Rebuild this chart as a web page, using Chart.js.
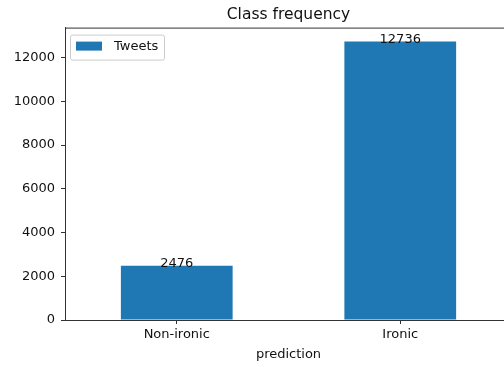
<!DOCTYPE html>
<html>
<head>
<meta charset="utf-8">
<script src="https://cdn.jsdelivr.net/npm/chart.js@4/dist/chart.umd.min.js"></script>
<style>
  html, body { margin: 0; padding: 0; background: #fff; overflow: hidden; }
  canvas { display: block; }
</style>
</head>
<body>
<canvas id="freqChart" width="512" height="367"></canvas>
<script>
const categories = ["Non-ironic", "Ironic"];
const tweetCounts = [2476, 12736];
const yTicks = [0, 2000, 4000, 6000, 8000, 10000, 12000];

const barBlue = '#1f77b4';
const inkColor = '#111';
const spineColor = '#333';

Chart.defaults.font.family = "'DejaVu Sans', sans-serif";
Chart.defaults.color = inkColor;

// top spine + value labels + legend box drawn inside the plot
const extras = {
    id: 'extras',
    afterDraw(chart) {
        const ctx = chart.ctx;
        const area = chart.chartArea;
        ctx.save();
        ctx.strokeStyle = spineColor;
        ctx.lineWidth = 1;
        ctx.beginPath();
        ctx.moveTo(area.left, area.top + 0.5);
        ctx.lineTo(area.right, area.top + 0.5);
        ctx.stroke();

        ctx.font = "13px 'DejaVu Sans'";
        ctx.fillStyle = inkColor;
        ctx.textAlign = 'center';
        ctx.textBaseline = 'alphabetic';
        chart.getDatasetMeta(0).data.forEach((bar, i) => {
            ctx.fillText(String(tweetCounts[i]), bar.x, bar.y + 1);
        });

        // legend
        const lx = area.left + 5.5, ly = area.top + 7.5, lw = 94, lh = 25;
        ctx.fillStyle = 'rgba(255,255,255,0.8)';
        ctx.strokeStyle = '#cccccc';
        ctx.beginPath();
        ctx.roundRect(lx, ly, lw, lh, 2);
        ctx.fill();
        ctx.stroke();
        ctx.fillStyle = barBlue;
        ctx.fillRect(area.left + 11, area.top + 14, 26, 9);
        ctx.fillStyle = inkColor;
        ctx.textAlign = 'left';
        ctx.textBaseline = 'middle';
        ctx.fillText(chart.data.datasets[0].label, area.left + 49, area.top + 19);
        ctx.restore();
    }
};

new Chart(document.getElementById('freqChart').getContext('2d'), {
    type: 'bar',
    data: {
        labels: categories,
        datasets: [{
            label: 'Tweets',
            data: tweetCounts,
            backgroundColor: barBlue,
            borderWidth: 0,
            categoryPercentage: 1.0,
            barPercentage: 0.5
        }]
    },
    options: {
        responsive: false,
        animation: false,
        layout: { padding: 0 },
        plugins: {
            legend: { display: false },
            tooltip: { enabled: false },
            title: {
                display: true,
                text: 'Class frequency',
                fullSize: false,
                color: inkColor,
                font: { size: 15.5, weight: 'normal' },
                padding: { top: 6, bottom: 3 }
            }
        },
        scales: {
            x: {
                offset: true,
                grid: { display: true, offset: false, drawOnChartArea: false, drawTicks: true, tickLength: 4, color: spineColor },
                border: { display: true, color: spineColor },
                ticks: { font: { size: 13 }, color: inkColor, padding: 3, maxRotation: 0 },
                title: { display: true, text: 'prediction', font: { size: 13 }, color: inkColor, padding: { top: 2, bottom: 5 } },
                afterFit(scale) { scale.height = 47; }
            },
            y: {
                min: 0,
                max: 13372.8,
                afterBuildTicks(scale) { scale.ticks = yTicks.map(v => ({ value: v })); },
                grid: { display: true, drawOnChartArea: false, drawTicks: true, tickLength: 4, color: spineColor },
                border: { display: true, color: spineColor },
                ticks: { font: { size: 13 }, color: inkColor, padding: 6, callback: v => String(v) },
                afterFit(scale) { scale.width = 65; }
            }
        }
    },
    plugins: [extras]
});
</script>
</body>
</html>
